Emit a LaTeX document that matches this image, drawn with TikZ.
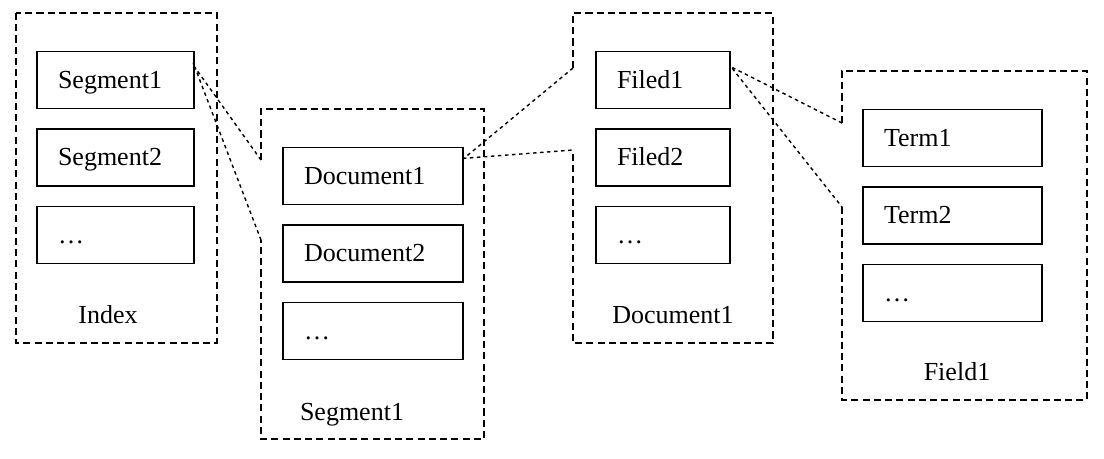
\documentclass[tikz,border=0pt]{standalone}
\usepackage{fontspec}
\setmainfont{Liberation Serif}
\begin{document}
\begin{tikzpicture}[x=0.02cm, y=-0.02cm, line width=0.8pt,
  every node/.append style={text height=2.2ex, text depth=0.1ex, font=\fontsize{14.8}{17}\selectfont},
  box/.style={draw, line width=1.1pt, minimum height=1.14cm, inner xsep=0.42cm, text width=#1, align=left},
  frame/.style={dash pattern=on 4pt off 2.4pt},
  zoomline/.style={dash pattern=on 2pt off 2pt}]
  \useasboundingbox (0,0) rectangle (1104,458);
  % Index
  \begin{scope}[shift={(16,13)}]
    \draw[frame] (0,0) rectangle (201,330);
    \node[box=2.3cm] (seg1) at (99.5,67) {Segment1};
    \node[box=2.3cm] (seg2) at (99.5,144.5) {Segment2};
    \node[box=2.3cm] (segn) at (99.5,222) {…};
    \node (idxlbl) at (92,302) {Index};
  \end{scope}
  % Segment1
  \begin{scope}[shift={(261,109)}]
    \draw[frame] (0,51) -- (0,0) -- (223,0) -- (223,330) -- (0,330) -- (0,131);
    \coordinate (g2top) at (0,51);
    \coordinate (g2bot) at (0,131);
    \node[box=2.76cm] (doc1) at (112,67) {Document1};
    \node[box=2.76cm] (doc2) at (112,144.5) {Document2};
    \node[box=2.76cm] (docn) at (112,222) {…};
    \node (seglbl) at (91,303) {Segment1};
  \end{scope}
  % Document1
  \begin{scope}[shift={(573,13)}]
    \draw[frame] (0,55) -- (0,0) -- (200,0) -- (200,330) -- (0,330) -- (0,137);
    \coordinate (g3top) at (0,55);
    \coordinate (g3bot) at (0,137);
    \node[box=1.84cm] (fld1) at (90,67) {Filed1};
    \node[box=1.84cm] (fld2) at (90,144.5) {Filed2};
    \node[box=1.84cm] (fldn) at (90,222) {…};
    \node (doclbl) at (100,302) {Document1};
  \end{scope}
  % Field1
  \begin{scope}[shift={(842,71)}]
    \draw[frame] (0,52) -- (0,0) -- (245,0) -- (245,329) -- (0,329) -- (0,136);
    \coordinate (g4top) at (0,52);
    \coordinate (g4bot) at (0,136);
    \node[box=2.74cm] (term1) at (110.5,67) {Term1};
    \node[box=2.74cm] (term2) at (110.5,144.5) {Term2};
    \node[box=2.74cm] (termn) at (110.5,222) {…};
    \node (fldlbl) at (115,301) {Field1};
  \end{scope}
  % zoom lines
  \draw[zoomline] (g2top) -- (seg1.9) -- (g2bot);
  \draw[zoomline] (g3top) -- (doc1.11) -- (g3bot);
  \draw[zoomline] (g4top) -- (fld1.11) -- (g4bot);
\end{tikzpicture}
\end{document}
